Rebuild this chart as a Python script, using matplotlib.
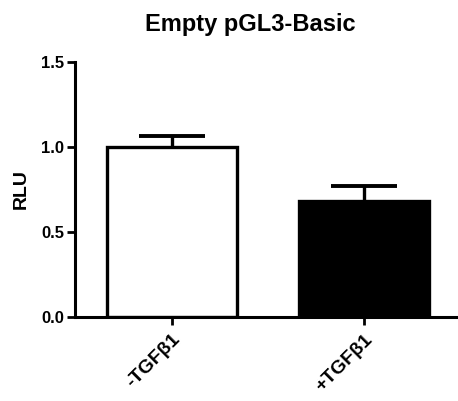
import matplotlib
matplotlib.use("Agg")
import matplotlib.pyplot as plt

# values
groups = ["-TGF\u03b21", "+TGF\u03b21"]
rlu = [1.0, 0.68]
sem = [0.065, 0.09]
fills = ["white", "black"]
yticks = [0.0, 0.5, 1.0, 1.5]

plt.rcParams["font.family"] = ["Liberation Sans", "DejaVu Sans"]
plt.rcParams["font.weight"] = "bold"

fig = plt.figure(figsize=(4.58, 4.01), dpi=100)
ax = fig.add_axes([75 / 458, 84 / 401, 383 / 458, 255 / 401])

x = list(range(len(groups)))
ax.bar(x, rlu, width=0.68, color=fills, edgecolor="black", linewidth=2.4, zorder=2)
for xi, m, e in zip(x, rlu, sem):
    eb = ax.errorbar(xi, m, yerr=[[0], [e]], fmt="none", ecolor="black",
                     elinewidth=2.4, capsize=24, capthick=2.8, zorder=1)
    # only the upper cap, like the original
    eb[1][0].set_visible(False)

ax.set_xlim(-0.505, 1.49)
ax.set_ylim(0, 1.5)
ax.set_yticks(yticks)
ax.set_yticklabels([f"{v:.1f}" for v in yticks], fontsize=12, fontweight="bold")
ax.set_xticks(x)
ax.set_xticklabels(groups, rotation=45, ha="right", rotation_mode="anchor",
                   fontsize=14, fontweight="bold")
ax.set_ylabel("RLU", fontsize=14, fontweight="bold", labelpad=8)

ax.spines[["top", "right"]].set_visible(False)
for s in ("left", "bottom"):
    ax.spines[s].set_linewidth(2.2)
ax.tick_params(axis="both", width=2.0, length=6, pad=2)
ax.tick_params(axis="x", pad=4)

fig.text(0.546, 0.938, "Empty pGL3-Basic", ha="center", va="center",
         fontsize=17, fontweight="bold")

fig.savefig("out.png", dpi=100)
